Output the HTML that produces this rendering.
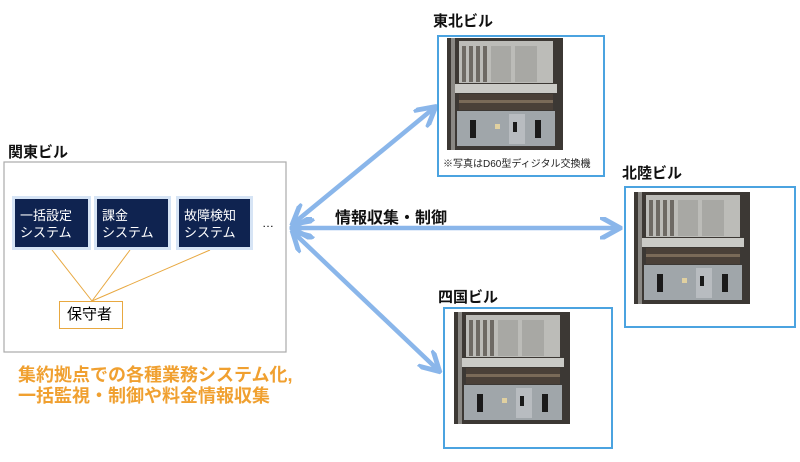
<!DOCTYPE html>
<html><head><meta charset="utf-8"><style>
body{margin:0;width:800px;height:462px;background:#fff;position:relative;overflow:hidden;font-family:"Liberation Sans","Noto Sans CJK JP",sans-serif}
.a{position:absolute}
.lbl{font-weight:bold;font-size:15px;color:#111}
.dk{position:absolute;background:#0f2350;color:#fff;font-size:13px;line-height:17px;padding:8px 0 0 5px;box-sizing:border-box;box-shadow:0 0 0 3px #d6e4f5}
.bx{position:absolute;border:2px solid #4ba3e0;box-sizing:border-box}
</style></head><body>
<svg class="a" style="left:0;top:0" width="800" height="462">
<defs>
<g id="ph">
<rect width="116" height="112" fill="#3c3834"/>
<rect x="4" y="0" width="4" height="112" fill="#8a8884"/>
<rect x="12" y="3" width="94" height="42" fill="#bcbcb8"/>
<g fill="#6e6a64"><rect x="15" y="8" width="4" height="36"/><rect x="22" y="8" width="4" height="36"/><rect x="29" y="8" width="4" height="36"/><rect x="36" y="8" width="4" height="36"/></g>
<g fill="#a8a8a4"><rect x="44" y="8" width="20" height="36"/><rect x="68" y="8" width="22" height="36"/></g>
<rect x="8" y="46" width="102" height="9" fill="#cacac6"/>
<rect x="12" y="56" width="94" height="16" fill="#4a4038"/>
<rect x="12" y="62" width="94" height="3" fill="#7a6a58"/>
<rect x="10" y="73" width="98" height="35" fill="#a0a6aa"/>
<rect x="62" y="76" width="16" height="30" fill="#b8bcc0"/>
<g fill="#1a1a1a"><rect x="23" y="82" width="6" height="18"/><rect x="88" y="82" width="6" height="18"/><rect x="66" y="84" width="4" height="10"/></g>
<rect x="48" y="86" width="5" height="5" fill="#e0d0a0"/>
</g>
<marker id="ah" viewBox="0 0 10 10" refX="8" refY="5" markerWidth="5" markerHeight="5" orient="auto-start-reverse"><path d="M0,0 L9,5 L0,10" fill="none" stroke="#8ab6ea" stroke-width="2.2"/></marker>
</defs>
<rect x="4" y="162" width="282" height="190" fill="#fff" stroke="#aaa" stroke-width="1.2"/>
<g stroke="#e8a840" stroke-width="1"><line x1="52" y1="250" x2="92" y2="301"/><line x1="130" y1="250" x2="92" y2="301"/><line x1="210" y1="250" x2="92" y2="301"/></g>
<g stroke="#8ab6ea" stroke-width="4.5" fill="none" marker-start="url(#ah)" marker-end="url(#ah)">
<line x1="294" y1="223" x2="434" y2="108"/>
<line x1="294" y1="228" x2="618" y2="228"/>
<line x1="294" y1="233" x2="438" y2="370"/>
</g>
<use href="#ph" x="447" y="38"/>
<use href="#ph" x="634" y="192"/>
<use href="#ph" x="454" y="312"/>
</svg>
<div class="a lbl" style="left:8px;top:141px">関東ビル</div>
<div class="dk" style="left:15px;top:199px;width:73px;height:48px">一括設定<br>システム</div>
<div class="dk" style="left:97px;top:199px;width:71px;height:48px">課金<br>システム</div>
<div class="dk" style="left:179px;top:199px;width:71px;height:48px">故障検知<br>システム</div>
<div class="a" style="left:262px;top:216px;font-size:12px">…</div>
<div class="a" style="left:59px;top:301px;width:64px;height:28px;border:1.5px solid #e8a840;box-sizing:border-box;font-size:15px;line-height:25px;padding-left:7px;background:#fff">保守者</div>
<div class="a" style="left:18px;top:365px;font-size:18px;font-weight:bold;color:#f0a030;line-height:21px">集約拠点での各種業務システム化,<br>一括監視・制御や料金情報収集</div>
<div class="a lbl" style="left:335px;top:204px;font-size:16px">情報収集・制御</div>
<div class="a lbl" style="left:433px;top:10px">東北ビル</div>
<div class="bx" style="left:437px;top:35px;width:168px;height:142px"></div>
<div class="a" style="left:443px;top:155px;font-size:10px;color:#222">※写真はD60型ディジタル交換機</div>
<div class="a lbl" style="left:622px;top:162px">北陸ビル</div>
<div class="bx" style="left:624px;top:186px;width:172px;height:142px"></div>
<div class="a lbl" style="left:438px;top:286px">四国ビル</div>
<div class="bx" style="left:443px;top:307px;width:170px;height:142px"></div>
</body></html>
